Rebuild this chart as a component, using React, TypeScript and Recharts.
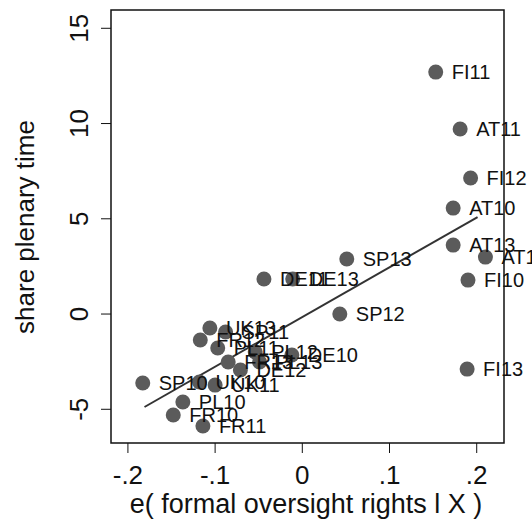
import React from 'react';
import {
  ScatterChart,
  Scatter,
  XAxis,
  YAxis,
  ReferenceArea,
  ReferenceLine,
  LabelList,
} from 'recharts';

// parliament-year labels with residualised oversight rights (x) and plenary share (y)
const names = [
  'FI11', 'AT11', 'FI12', 'AT10', 'AT13', 'AT12', 'FI10', 'FI13',
  'SP13', 'SP12', 'DE11', 'DE13',
  'UK13', 'SP11', 'FR12', 'PL11', 'PL12', 'DE10', 'FR13', 'PL13', 'DE12',
  'SP10', 'UK10', 'UK11', 'PL10', 'FR10', 'FR11',
];
const xValues = [
  0.153, 0.181, 0.193, 0.173, 0.173, 0.21, 0.19, 0.189,
  0.051, 0.043, -0.044, -0.011,
  -0.106, -0.088, -0.117, -0.097, -0.054, -0.012, -0.085, -0.049, -0.071,
  -0.183, -0.118, -0.1, -0.137, -0.148, -0.114,
];
const yValues = [
  12.7, 9.71, 7.14, 5.56, 3.62, 2.99, 1.78, -2.89,
  2.89, 0.0, 1.84, 1.84,
  -0.73, -0.94, -1.36, -1.78, -1.99, -2.15, -2.52, -2.52, -2.94,
  -3.62, -3.57, -3.73, -4.62, -5.3, -5.88,
];

// fitted line end points
const fitX = [-0.181, 0.201];
const fitY = [-4.88, 5.09];

const xTicks = [-0.2, -0.1, 0, 0.1, 0.2];
const xTickLabels = ['-.2', '-.1', '0', '.1', '.2'];
const yTicks = [-5, 0, 5, 10, 15];

const xDomain: [number, number] = [-0.2194, 0.2313];
const yDomain: [number, number] = [-6.77, 15.96];

const font = '"Liberation Sans", Arial, Helvetica, sans-serif';

const points = names.map((name, i) => ({ name, x: xValues[i], y: yValues[i] }));

const Dot = (props: any) => (
  <circle cx={props.cx} cy={props.cy} r={7.5} fill="#5b5b5b" />
);

const PointLabel = (props: any) => (
  <text
    x={props.x + props.width / 2 + 16}
    y={props.y + props.height / 2 + 7}
    fontSize={20}
    fontFamily={font}
    fill="#111"
  >
    {props.value}
  </text>
);

const XTick = ({ x, y, payload }: any) => {
  const i = xTicks.indexOf(payload.value);
  return (
    <text x={x} y={y + 31} textAnchor="middle" fontSize={26} fontFamily={font} fill="#111">
      {i >= 0 ? xTickLabels[i] : payload.value}
    </text>
  );
};

const YTick = ({ x, y, payload }: any) => (
  <text
    x={x}
    y={y}
    textAnchor="middle"
    fontSize={26}
    fontFamily={font}
    fill="#111"
    transform={`rotate(-90, ${x}, ${y})`}
  >
    {payload.value}
  </text>
);

export default function App() {
  return (
    <div style={{ position: 'absolute', left: 0, top: 0, width: 532, height: 521, background: '#fff' }}>
      <ScatterChart width={532} height={521} margin={{ top: 10, right: 28, bottom: 0, left: 0 }}>
        <XAxis
          type="number"
          dataKey="x"
          domain={xDomain}
          ticks={xTicks}
          allowDataOverflow
          height={78}
          tickSize={10}
          tickMargin={0}
          axisLine={false}
          tickLine={{ stroke: '#111' }}
          tick={<XTick />}
          label={{
            content: () => (
              <text x={306} y={513} textAnchor="middle" fontSize={27} fontFamily={font} fill="#111">
                e( formal oversight rights l X )
              </text>
            ),
          }}
        />
        <YAxis
          type="number"
          dataKey="y"
          domain={yDomain}
          ticks={yTicks}
          allowDataOverflow
          width={111}
          tickSize={10}
          tickMargin={13}
          axisLine={false}
          tickLine={{ stroke: '#111' }}
          tick={<YTick />}
          label={{
            content: () => (
              <text
                x={34}
                y={227}
                textAnchor="middle"
                fontSize={26}
                fontFamily={font}
                fill="#111"
                transform="rotate(-90, 34, 227)"
              >
                share plenary time
              </text>
            ),
          }}
        />
        <ReferenceArea
          x1={xDomain[0]}
          x2={xDomain[1]}
          y1={yDomain[0]}
          y2={yDomain[1]}
          fill="none"
          stroke="#111"
          strokeWidth={1.5}
          ifOverflow="visible"
        />
        <Scatter data={points} shape={<Dot />} isAnimationActive={false}>
          <LabelList dataKey="name" content={<PointLabel />} />
        </Scatter>
        <ReferenceLine
          segment={[
            { x: fitX[0], y: fitY[0] },
            { x: fitX[1], y: fitY[1] },
          ]}
          stroke="#333"
          strokeWidth={2}
        />
      </ScatterChart>
    </div>
  );
}
